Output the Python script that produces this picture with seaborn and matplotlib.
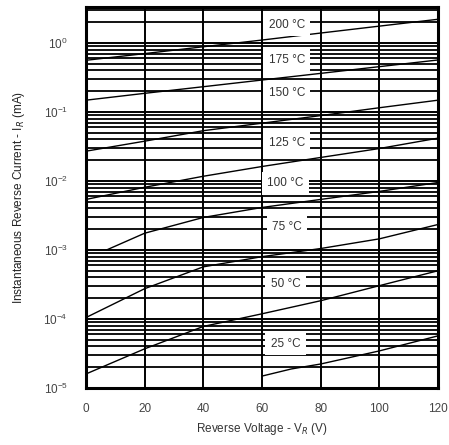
import numpy as np
import pandas as pd
import matplotlib.pyplot as plt
import seaborn as sns
from matplotlib.ticker import LogLocator, NullFormatter

# reverse voltage (V) and current (mA)
volts = [0, 20, 40, 60, 80, 100, 120]
i_200 = [0.56, 0.70, 0.88, 1.10, 1.39, 1.75, 2.2]
i_175 = [0.148, 0.186, 0.232, 0.29, 0.362, 0.453, 0.566]
i_150 = [0.027, 0.0377, 0.0535, 0.0687, 0.0885, 0.115, 0.148]
i_125 = [0.0054, 0.0081, 0.0117, 0.0162, 0.0219, 0.0295, 0.0417]
volts_100 = [7, 20, 40, 60, 80, 100, 120]
i_100 = [0.0010, 0.00175, 0.00296, 0.00413, 0.0054, 0.00706, 0.0095]
i_75 = [1.05e-4, 2.75e-4, 5.7e-4, 8.0e-4, 1.05e-3, 1.45e-3, 2.34e-3]
i_50 = [1.6e-5, 3.7e-5, 7.8e-5, 1.19e-4, 1.84e-4, 3.04e-4, 5.0e-4]
volts_25 = [60, 70, 80, 100, 120]
i_25 = [1.49e-5, 1.89e-5, 2.23e-5, 3.45e-5, 5.7e-5]

temps = ["200 °C", "175 °C", "150 °C", "125 °C", "100 °C", "75 °C", "50 °C", "25 °C"]
label_v = [68.5, 68.5, 68.5, 68.5, 68, 68.5, 68, 68]
label_i = [1.83, 0.57, 0.187, 0.0352, 0.0092, 0.00212, 3.25e-4, 4.4e-5]

curves = [(volts, i_200), (volts, i_175), (volts, i_150), (volts, i_125),
          (volts_100, i_100), (volts, i_75), (volts, i_50), (volts_25, i_25)]
rows = []
for t, (v, i) in zip(temps, curves):
    for a, b in zip(v, i):
        rows.append({"temp": t, "V": a, "I": b})
df = pd.DataFrame(rows)

sns.set_style("white")
plt.rcParams['font.family'] = ['Liberation Sans', 'DejaVu Sans']

fig = plt.figure(figsize=(4.49, 4.45), dpi=100)
ax = fig.add_axes([0.1915, 0.128, 0.784, 0.856])

ax.set_yscale("log")
ax.set_xlim(0, 120)
ax.set_ylim(1e-5, 3.3)
ax.set_xticks([0, 20, 40, 60, 80, 100, 120])
ax.yaxis.set_major_locator(LogLocator(base=10, numticks=10))
ax.yaxis.set_minor_locator(LogLocator(base=10, subs=np.arange(2, 10), numticks=20))
ax.yaxis.set_minor_formatter(NullFormatter())

ax.grid(True, which="major", axis="both", color="black", lw=1.4)
ax.grid(True, which="minor", axis="y", color="black", lw=1.3)
ax.set_axisbelow(True)

sns.lineplot(data=df, x="V", y="I", hue="temp", units="temp", estimator=None,
             palette=["black"] * len(temps), legend=False, lw=1.0, ax=ax, zorder=3)

for t, v, i in zip(temps, label_v, label_i):
    ax.text(v, i, t, ha="center", va="center", fontsize=8.5, color="#333333", zorder=4,
            bbox=dict(facecolor="white", edgecolor="none", boxstyle="square,pad=0.45"))

for s in ax.spines.values():
    s.set_linewidth(2.2)
    s.set_color("black")

ax.tick_params(axis="y", which="both", length=0, labelsize=8.5, labelcolor="#444444", pad=13)
ax.tick_params(axis="x", which="both", length=0, labelsize=8.5, labelcolor="#444444", pad=11)
ax.set_xlabel("Reverse Voltage - V$_R$ (V)", fontsize=8.5, color="#333333", labelpad=4)
ax.set_ylabel("Instantaneous Reverse Current - I$_R$ (mA)", fontsize=8.5, color="#222222",
              labelpad=12)

plt.savefig("out.png", dpi=100)
